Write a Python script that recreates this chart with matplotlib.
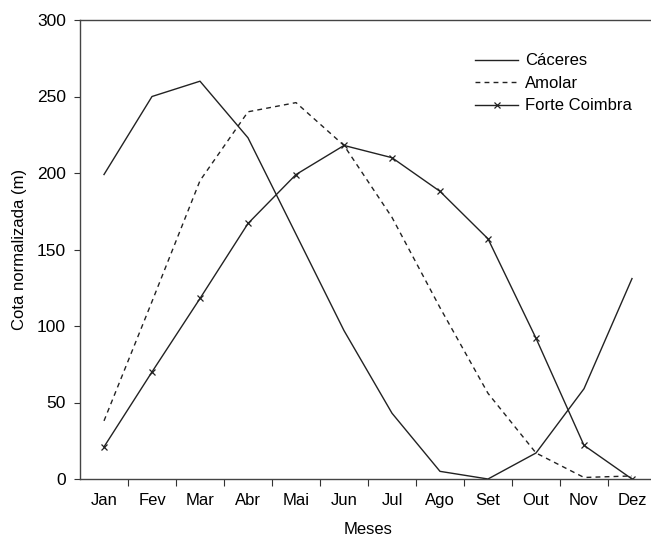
import numpy as np
import matplotlib
matplotlib.use('Agg')
import matplotlib.pyplot as plt

plt.rcParams['font.family'] = ['Liberation Sans', 'DejaVu Sans']

# monthly normalised stage (m)
meses = ['Jan', 'Fev', 'Mar', 'Abr', 'Mai', 'Jun', 'Jul', 'Ago', 'Set', 'Out', 'Nov', 'Dez']
caceres = [199, 250, 260, 223, 160, 97, 43, 5, 0, 17, 59, 131]
amolar = [38, 116, 195, 240, 246, 218, 171, 112, 56, 17, 1, 2]
forte_coimbra = [21, 70, 118, 167, 199, 218, 210, 188, 157, 92, 22, 0]

fig = plt.figure(figsize=(6.51, 5.38), dpi=100)
# plot area runs slightly past the right edge, like the cropped original
ax = fig.add_axes([80 / 651, 1 - 479 / 538, 576 / 651, 459 / 538])

x = np.arange(len(meses))
ax.plot(x, caceres, '-', color='#222222', lw=1.0, label='Cáceres')
ax.plot(x, amolar, '--', color='#222222', lw=1.0, dashes=(3.5, 3), label='Amolar')
ax.plot(x, forte_coimbra, '-', color='#222222', lw=1.0, marker='x', ms=4,
        mew=0.9, label='Forte Coimbra')

ax.set_xlim(-0.5, 11.5)
ax.set_ylim(0, 300)
ax.set_yticks([0, 50, 100, 150, 200, 250, 300])

# ticks between months, labels centred on months
ax.set_xticks(np.arange(0.5, 11.5, 1))
ax.set_xticklabels([])
ax.set_xticks(x, minor=True)
ax.set_xticklabels(meses, minor=True)
ax.tick_params(axis='x', which='major', length=5, direction='out', color='#333333')
ax.tick_params(axis='x', which='minor', length=0, pad=10, labelsize=12)
ax.tick_params(axis='y', length=4, direction='out', pad=6, labelsize=12.5, color='#333333')

for s in ['left', 'bottom', 'top']:
    ax.spines[s].set_color('#444444')
    ax.spines[s].set_linewidth(1.0)
ax.spines['right'].set_visible(False)

ax.set_xlabel('Meses', fontsize=12, labelpad=10)
ax.set_ylabel('Cota normalizada (m)', fontsize=12, labelpad=7)

ax.legend(loc='upper left', bbox_to_anchor=(0.66, 0.96), frameon=False,
          fontsize=12, handlelength=2.6, handletextpad=0.4, labelspacing=0.45)

fig.savefig('out.png', dpi=100)
